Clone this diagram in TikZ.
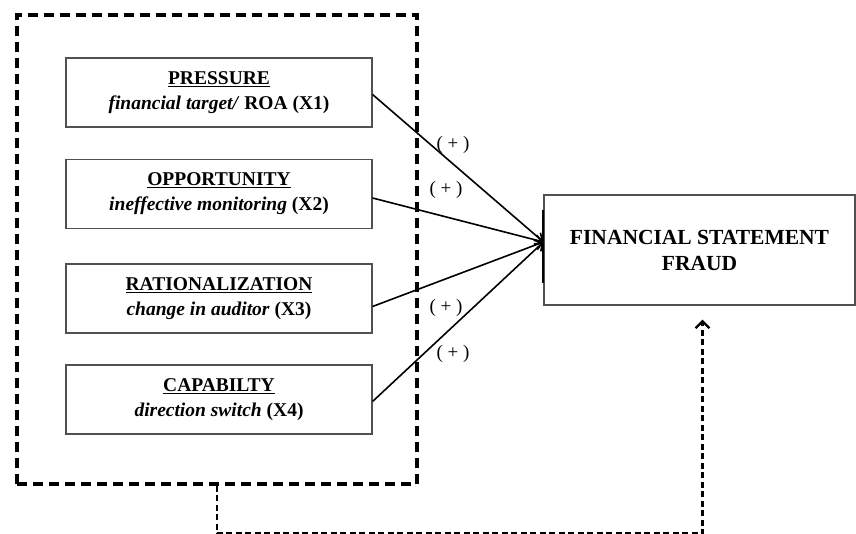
\documentclass[tikz,border=0pt]{standalone}
\usepackage{fontspec}
\setmainfont{Liberation Serif}
\usetikzlibrary{arrows.meta}
\tikzset{
  factorbox/.style={draw=boxColor,line width=1.1pt,minimum width=306,minimum height=69,align=center,inner sep=0pt,
    font=\fontsize{19.5}{25}\selectfont\bfseries},
  signlabel/.style={inner sep=0pt,font=\fontsize{19}{19}\selectfont},
}
\begin{document}
\begin{tikzpicture}[x=1pt,y=1pt]
\definecolor{fillColor}{RGB}{255,255,255}
\definecolor{drawColor}{RGB}{0,0,0}
\definecolor{boxColor}{RGB}{80,80,80}
\path[use as bounding box,fill=fillColor] (0,0) rectangle (856,534);

\node[draw=drawColor,line width=3.2pt,dash pattern=on 10pt off 6pt,minimum width=400,minimum height=469,inner sep=0pt] (frame) at (217,284.5) {};

\node[factorbox] (pressure) at (219,441.5) {\underline{PRESSURE}\\\textit{financial target/} ROA (X1)};
\node[factorbox] (opportunity) at (219,340) {\underline{OPPORTUNITY}\\\textit{ineffective monitoring} (X2)};
\node[factorbox] (rational) at (219,235.5) {\underline{RATIONALIZATION}\\\textit{change in auditor} (X3)};
\node[factorbox] (capability) at (219,134.5) {\underline{CAPABILTY}\\\textit{direction switch} (X4)};

\node[draw=boxColor,line width=1.1pt,minimum width=311,minimum height=110,align=center,inner sep=0pt,
  font=\fontsize{21.5}{26}\selectfont\bfseries] (fraud) at (699.5,284) {\raisebox{-3pt}{FINANCIAL STATEMENT}\\\raisebox{-3pt}{FRAUD}};
\path[draw=drawColor,line width=2pt] ([yshift=40]fraud.west) -- ([yshift=-33]fraud.west);
\coordinate (tip) at ([yshift=8]fraud.west);

\path[draw=drawColor,line width=1.6pt,-{Straight Barb[length=7pt,width=10pt]}] ([yshift=-2]pressure.east) -- (tip);
\path[draw=drawColor,line width=1.6pt,-{Straight Barb[length=7pt,width=10pt]}] ([yshift=-4]opportunity.east) -- (tip);
\path[draw=drawColor,line width=1.6pt,-{Straight Barb[length=7pt,width=10pt]}] ([yshift=-8]rational.east) -- (tip);
\path[draw=drawColor,line width=1.6pt,-{Straight Barb[length=7pt,width=10pt]}] ([yshift=-2]capability.east) -- (tip);

\node[signlabel] (sign1) at (453,389) {( + )};
\node[signlabel] (sign2) at (446,344) {( + )};
\node[signlabel] (sign3) at (446,226) {( + )};
\node[signlabel] (sign4) at (453,180) {( + )};

\path[draw=drawColor,line width=2.3pt,dash pattern=on 6pt off 3.5pt,-{Straight Barb[length=7pt,width=14pt]},shorten >=14pt]
  (frame.south) -- ++(0,-48) -| ([xshift=3]fraud.south);
\end{tikzpicture}
\end{document}
